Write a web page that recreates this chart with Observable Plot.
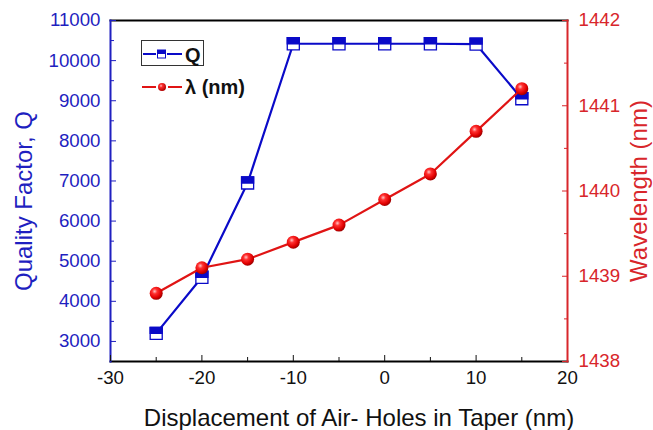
<!DOCTYPE html>
<html><head><meta charset="utf-8">
<script src="https://cdn.jsdelivr.net/npm/d3@7"></script>
<script src="https://cdn.jsdelivr.net/npm/@observablehq/plot@0.6"></script>
<style>
body{margin:0;background:#fff;}
#chart{position:relative;width:653px;height:430px;overflow:hidden;background:#fff;font-family:"Liberation Sans",Arial,sans-serif;}
#chart svg{position:absolute;left:0;top:0;}
</style></head><body><div id="chart"></div>
<script>
const displacement = [-25, -20, -15, -10, -5, 0, 5, 10, 15];
const qualityFactor = [3200, 4600, 6950, 10420, 10420, 10420, 10420, 10410, 9050];
const wavelength = [1438.8, 1439.1, 1439.2, 1439.4, 1439.6, 1439.9, 1440.2, 1440.7, 1441.2];
const xTicks = [-30, -20, -10, 0, 10, 20];
const xMinor = [-25, -15, -5, 5, 15];
const qTicks = [3000, 4000, 5000, 6000, 7000, 8000, 9000, 10000, 11000];
const qMinor = [3500, 4500, 5500, 6500, 7500, 8500, 9500, 10500];
const wTicks = [1438, 1439, 1440, 1441, 1442];
const wMinor = [1438.5, 1439.5, 1440.5, 1441.5];
const xLabel = "Displacement of Air- Holes in Taper (nm)";
const qLabel = "Quality Factor, Q";
const wLabel = "Wavelength (nm)";
const legendLabels = ["Q", "λ (nm)"];

const BLUE = "#1f1fc0", BLUE_LINE = "#0a0ac8", RED = "#d8262b", RED_LINE = "#e01414";
const rows = displacement.map((x, i) => ({x, q: qualityFactor[i], w: wavelength[i]}));

const squareSym = {draw(ctx, size) { const s = Math.sqrt(size) / 2; ctx.rect(-s, -s, 2 * s, 2 * s); }};
const topHalfSym = {draw(ctx, size) { const s = Math.sqrt(size) / 2; ctx.rect(-s, -s, 2 * s, s); }};

const common = {
  width: 653, height: 430,
  marginLeft: 110, marginRight: 86, marginTop: 20, marginBottom: 69,
  style: {fontFamily: "Liberation Sans, Arial, sans-serif", fontSize: "18.7px", background: "transparent", overflow: "visible"}
};
const fmt = d => String(d);

const plotQ = Plot.plot({
  ...common,
  x: {domain: [-30, 20], label: null},
  y: {domain: [2500, 11000], label: null},
  marks: [
    Plot.frame({anchor: "top", stroke: "black", strokeWidth: 2}),
    Plot.frame({anchor: "bottom", stroke: "black", strokeWidth: 2}),
    Plot.frame({anchor: "left", stroke: BLUE, strokeWidth: 2}),
    Plot.axisX(xTicks, {anchor: "bottom", tickSize: -6, tickPadding: 15, color: "#111", tickFormat: fmt, label: null}),
    Plot.axisX(xMinor, {anchor: "bottom", tickSize: -4, text: null, color: "#111", label: null}),
    Plot.axisY(qTicks, {anchor: "left", tickSize: -6, tickPadding: 16, color: BLUE, tickFormat: fmt, label: null}),
    Plot.axisY(qMinor, {anchor: "left", tickSize: -4, text: null, color: BLUE, label: null}),
    Plot.text([qLabel], {frameAnchor: "left", textAnchor: "middle", lineAnchor: "middle", rotate: -90, dx: -86, dy: 10, fill: BLUE, fontSize: 24}),
    Plot.text([xLabel], {frameAnchor: "bottom", textAnchor: "middle", lineAnchor: "middle", dy: 57, dx: 20, fill: "#111", fontSize: 24}),
    Plot.line(rows, {x: "x", y: "q", stroke: BLUE_LINE, strokeWidth: 2.2}),
    Plot.dot(rows, {x: "x", y: "q", symbol: squareSym, r: 6.8, fill: "white", stroke: BLUE_LINE, strokeWidth: 1.3}),
    Plot.dot(rows, {x: "x", y: "q", symbol: topHalfSym, r: 6.8, fill: BLUE_LINE, stroke: BLUE_LINE, strokeWidth: 1.3})
  ]
});

const plotW = Plot.plot({
  ...common,
  x: {domain: [-30, 20], axis: null, label: null},
  y: {domain: [1438, 1442], label: null},
  marks: [
    Plot.frame({anchor: "right", stroke: RED, strokeWidth: 2}),
    Plot.axisY(wTicks, {anchor: "right", tickSize: -6, tickPadding: 17, color: RED, tickFormat: fmt, label: null}),
    Plot.axisY(wMinor, {anchor: "right", tickSize: -4, text: null, color: RED, label: null}),
    Plot.text([wLabel], {frameAnchor: "right", textAnchor: "middle", lineAnchor: "middle", rotate: -90, dx: 72, fill: RED, fontSize: 24}),
    Plot.line(rows, {x: "x", y: "w", stroke: RED_LINE, strokeWidth: 2.2}),
    Plot.dot(rows, {x: "x", y: "w", r: 6.5, fill: "url(#sphere)", stroke: "none"})
  ]
});

const defs = document.createElementNS("http://www.w3.org/2000/svg", "defs");
defs.innerHTML = `<radialGradient id="sphere" cx="38%" cy="35%" r="65%">
  <stop offset="0%" stop-color="#ffc4c4"/><stop offset="30%" stop-color="#ff3030"/>
  <stop offset="75%" stop-color="#e00000"/><stop offset="100%" stop-color="#a00000"/></radialGradient>
  <radialGradient id="sphereL" cx="38%" cy="35%" r="65%">
  <stop offset="0%" stop-color="#ffc4c4"/><stop offset="30%" stop-color="#ff3030"/>
  <stop offset="100%" stop-color="#b00000"/></radialGradient>`;
plotW.insertBefore(defs, plotW.firstChild);

const chart = document.getElementById("chart");
chart.append(plotQ, plotW);

// legend
const lg = document.createElementNS("http://www.w3.org/2000/svg", "svg");
lg.setAttribute("width", 653); lg.setAttribute("height", 430);
lg.style.pointerEvents = "none";
lg.innerHTML = `
  <rect x="141.5" y="40.5" width="62" height="25" fill="white" stroke="#333" stroke-width="1"/>
  <line x1="143" x2="156" y1="54" y2="54" stroke="${BLUE_LINE}" stroke-width="2"/>
  <line x1="167" x2="182" y1="54" y2="54" stroke="${BLUE_LINE}" stroke-width="2"/>
  <rect x="157.5" y="50" width="8" height="8" fill="white" stroke="${BLUE_LINE}" stroke-width="1"/>
  <rect x="157.5" y="50" width="8" height="4" fill="${BLUE_LINE}"/>
  <text x="185" y="62" font-family="Liberation Sans, Arial, sans-serif" font-size="20" font-weight="bold" fill="#111">${legendLabels[0]}</text>
  <line x1="142" x2="156" y1="87" y2="87" stroke="${RED_LINE}" stroke-width="2"/>
  <line x1="168" x2="182" y1="87" y2="87" stroke="${RED_LINE}" stroke-width="2"/>
  <circle cx="162" cy="87" r="4" fill="url(#sphereL)"/>
  <text x="185" y="94" font-family="Liberation Sans, Arial, sans-serif" font-size="20" font-weight="bold" fill="#111">${legendLabels[1]}</text>`;
chart.append(lg);
</script></body></html>
